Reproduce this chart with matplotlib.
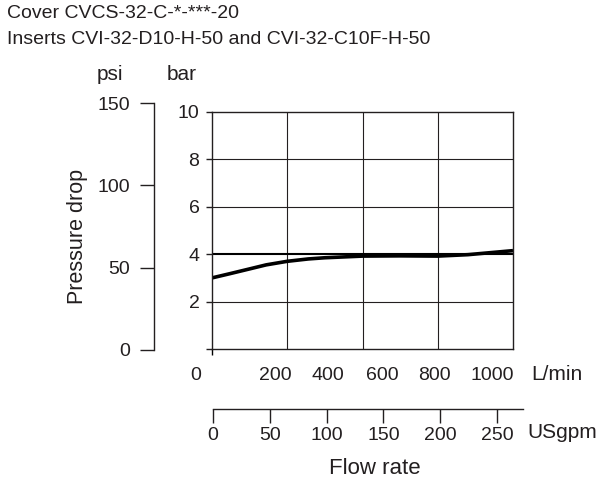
import matplotlib
matplotlib.use("Agg")
import matplotlib.pyplot as plt

plt.rcParams['font.family'] = ['Liberation Sans', 'DejaVu Sans']

W, H = 608, 483
INK = '#231f20'

# curve: pressure drop (bar) against flow (L/min)
flow_lpm = [0, 60, 125, 180, 250, 320, 375, 500, 625, 750, 850, 1000]
dp_bar = [3.0, 3.18, 3.38, 3.55, 3.7, 3.8, 3.85, 3.92, 3.93, 3.92, 3.98, 4.15]

bar_ticks = [0, 2, 4, 6, 8, 10]
psi_ticks = [0, 50, 100, 150]
gpm_ticks = [0, 50, 100, 150, 200, 250]
lpm_labels = ["0", "200", "400", "600", "800", "1000"]
lpm_label_px = [196, 275, 328, 382, 434, 492]

title1 = "Cover CVCS-32-C-*-***-20"
title2 = "Inserts CVI-32-D10-H-50 and CVI-32-C10F-H-50"


def fx(px):
    return px / W


def fy(py):
    return 1 - py / H


fs_num = 14   # tick numbers
fs_lab = 15   # axis words
fs_title = 14

fig = plt.figure(figsize=(W / 100, H / 100), dpi=100)

# main bar axes
ax = fig.add_axes([fx(212), fy(349), (513 - 212) / W, (349 - 112) / H])
ax.set_xlim(0, 1000)
ax.set_ylim(0, 10)
for s in ax.spines.values():
    s.set_linewidth(1.0)
    s.set_color(INK)
for x in [250, 500, 750]:
    ax.axvline(x, color=INK, lw=0.8)
for y in [2, 6, 8]:
    ax.axhline(y, color=INK, lw=0.8)
ax.axhline(4, color='black', lw=1.5)
ax.plot(flow_lpm, dp_bar, color='black', lw=2.6, solid_capstyle='butt')
ax.set_yticks(bar_ticks)
ax.set_yticklabels([""] + [str(t) for t in bar_ticks[1:]])
ax.set_xticks([0])
ax.set_xticklabels([""])
ax.tick_params(axis='y', direction='out', length=4, width=1, pad=5,
               labelsize=fs_num, colors=INK)
ax.tick_params(axis='x', direction='out', length=4, width=1)

for lab, px in zip(lpm_labels, lpm_label_px):
    fig.text(fx(px), fy(375), lab, ha='center', va='center', fontsize=fs_num, color=INK)
fig.text(fx(531), fy(375), "L/min", ha='left', va='center', fontsize=fs_lab, color=INK)

# psi axis
axp = fig.add_axes([fx(154), fy(350), 0.001, (350 - 103) / H])
axp.set_ylim(0, 150)
axp.set_xticks([])
for k in ['top', 'right', 'bottom']:
    axp.spines[k].set_visible(False)
axp.spines['left'].set_linewidth(1.0)
axp.spines['left'].set_color(INK)
axp.patch.set_visible(False)
axp.set_yticks(psi_ticks)
axp.tick_params(axis='y', direction='out', length=10, width=1, pad=7,
                labelsize=fs_num, colors=INK)

# USgpm axis
axg = fig.add_axes([fx(213), fy(409), (523 - 213) / W, 0.001])
axg.set_xlim(0, 273)
axg.set_yticks([])
for k in ['top', 'right', 'left']:
    axg.spines[k].set_visible(False)
axg.spines['bottom'].set_linewidth(1.0)
axg.spines['bottom'].set_color(INK)
axg.patch.set_visible(False)
axg.set_xticks(gpm_ticks)
axg.tick_params(axis='x', direction='out', length=10, width=1, pad=3,
                labelsize=fs_num, colors=INK)
fig.text(fx(527), fy(432), "USgpm", ha='left', va='center', fontsize=fs_lab, color=INK)
fig.text(fx(375), fy(469), "Flow rate", ha='center', va='center', fontsize=16, color=INK)

fig.text(fx(110), fy(75), "psi", ha='center', va='center', fontsize=fs_lab, color=INK)
fig.text(fx(182), fy(75), "bar", ha='center', va='center', fontsize=fs_lab, color=INK)
fig.text(fx(77), fy(236), "Pressure drop", ha='center', va='center', rotation=90,
         fontsize=15.5, color=INK)

fig.text(fx(7), fy(14), title1, ha='left', va='center', fontsize=fs_title, color=INK)
fig.text(fx(7), fy(40), title2, ha='left', va='center', fontsize=fs_title, color=INK)

fig.savefig("out.png", dpi=100)
